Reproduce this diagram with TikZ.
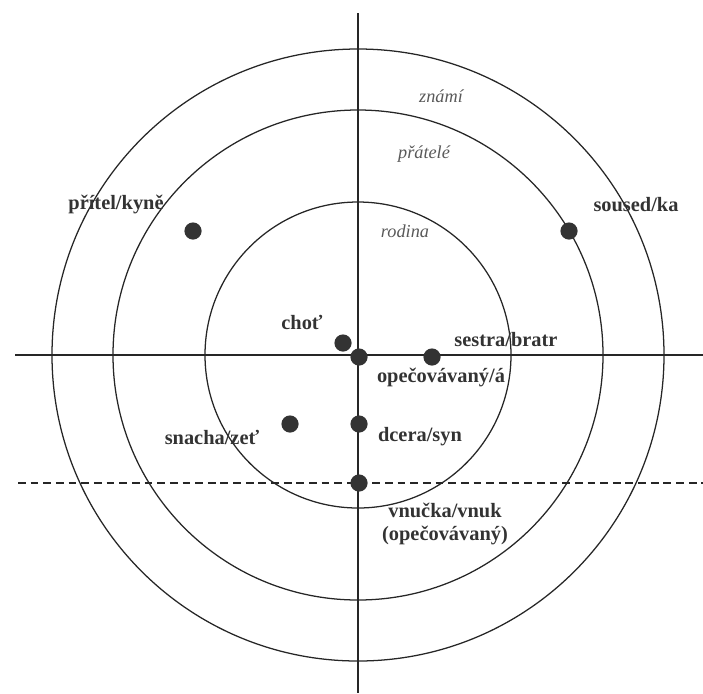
\documentclass[tikz,border=0pt]{standalone}
\usepackage{fontspec}
\setmainfont{Liberation Serif}

\begin{document}
\begin{tikzpicture}[x=0.025cm, y=-0.025cm,
  font=\fontsize{14.5}{16}\selectfont\bfseries, text=black!80,
  member/.style={circle, fill=black!80, inner sep=0pt, minimum size=4.3mm},
  zone/.style={font=\fontsize{13}{15}\selectfont\itshape, text=black!65},
  ring/.style={draw=black!85, line width=0.9pt}]
\useasboundingbox (0,0) rectangle (703,693);
% axes and rings
\coordinate (ctr) at (358,355);
\coordinate (ntop) at (358,13);
\coordinate (nbot) at (358,693);
\coordinate (wend) at (15,355);
\coordinate (eend) at (703,355);
\coordinate (dw) at (18,483);
\coordinate (de) at (703,483);
\draw[ring] (ctr) circle[radius=153];
\draw[ring] (ctr) circle[radius=245];
\draw[ring] (ctr) circle[radius=306];
\draw[ring] (ntop) -- (nbot);
\draw[ring] (wend) -- (eend);
\draw[ring, line width=0.8pt, dash pattern=on 5.5pt off 3.5pt] (dw) -- (de);
% zone names
\node[zone] (znami) at (441,96) {známí};
\node[zone] (pratele) at (424,154) {přátelé};
\node[zone] (rodina) at (405,231) {rodina};
% people
\node[member] (mpritel) at (193,231) {};
\node[member] (msoused) at (569,231) {};
\node[member] (mchot) at (343,343) {};
\node[member] (mopec) at (359,357) {};
\node[member] (msestra) at (432,357) {};
\node[member] (msnacha) at (290,424) {};
\node[member] (mdcera) at (359,424) {};
\node[member] (mvnucka) at (359,483) {};
\node (lpritel) at (116,205) {přítel/kyně};
\node (lsoused) at (636,205) {soused/ka};
\node (lchot) at (302,322) {choť};
\node (lsestra) at (506,340) {sestra/bratr};
\node (lopec) at (441,378) {opečovávaný/á};
\node (lsnacha) at (212,437) {snacha/zeť};
\node (ldcera) at (420,437) {dcera/syn};
\node[align=center, inner sep=1pt] (lvnucka) at (445,524) {vnučka/vnuk\\(opečovávaný)};
\end{tikzpicture}
\end{document}
